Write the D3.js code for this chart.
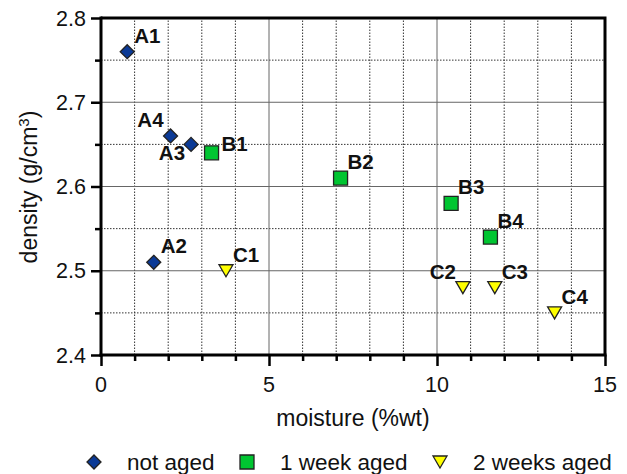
<!DOCTYPE html>
<html>
<head>
<meta charset="utf-8">
<script src="https://cdn.jsdelivr.net/npm/d3@7"></script>
<style>
  body { margin: 0; background: #fff; }
  text { font-family: "Liberation Sans", Arial, sans-serif; fill: #111; }
</style>
</head>
<body>
<script>
// data
var samples = ['A1', 'A2', 'A3', 'A4', 'B1', 'B2', 'B3', 'B4', 'C1', 'C2', 'C3', 'C4'];
var groups = ['not aged', 'not aged', 'not aged', 'not aged',
              '1 week aged', '1 week aged', '1 week aged', '1 week aged',
              '2 weeks aged', '2 weeks aged', '2 weeks aged', '2 weeks aged'];
var moisture = [0.78, 1.57, 2.68, 2.07, 3.29, 7.13, 10.42, 11.59, 3.72, 10.77, 11.72, 13.5];
var density = [2.76, 2.51, 2.65, 2.66, 2.64, 2.61, 2.58, 2.54, 2.50, 2.48, 2.48, 2.45];
var legendNames = ['not aged', '1 week aged', '2 weeks aged'];
var xTicks = [0, 5, 10, 15];
var yTicks = [2.4, 2.5, 2.6, 2.7, 2.8];

// where each label sits relative to its marker
var labelSide = ['ur', 'ur', 'll', 'ul', 'r', 'ur', 'ur', 'ur', 'ur', 'ul', 'ur', 'ur'];

var width = 627, height = 474;
var margin = {left: 101, right: 22, top: 18, bottom: 119};

var svg = d3.select('body').append('svg')
    .attr('width', width)
    .attr('height', height);

var x = d3.scaleLinear().domain([0, 15]).range([margin.left, width - margin.right]);
var y = d3.scaleLinear().domain([2.4, 2.8]).range([height - margin.bottom, margin.top]);

var colors = {'not aged': '#0b3a96', '1 week aged': '#00c531', '2 weeks aged': '#ffff00'};

// marker path for each group (diamond = rotated square, triangle points down)
function marker(g) {
    if (g === 'not aged') return 'M0,-7L7,0L0,7L-7,0Z';
    if (g === '1 week aged') return 'M-7,-7H7V7H-7Z';
    return 'M-7,-6H7L0,6Z';
}

var grid = svg.append('g');

// minor dotted grid
grid.selectAll('.vminor').data(d3.range(1, 15).filter(function(d) { return d % 5; }))
  .enter().append('line')
    .attr('x1', function(d) { return x(d); }).attr('x2', function(d) { return x(d); })
    .attr('y1', y(2.4)).attr('y2', y(2.8))
    .attr('stroke', '#333').attr('stroke-width', 1).attr('stroke-dasharray', '1.5,1.5');

grid.selectAll('.hminor').data([2.45, 2.55, 2.65, 2.75])
  .enter().append('line')
    .attr('y1', function(d) { return y(d); }).attr('y2', function(d) { return y(d); })
    .attr('x1', x(0)).attr('x2', x(15))
    .attr('stroke', '#333').attr('stroke-width', 1).attr('stroke-dasharray', '1.5,1.5');

// major solid grid
grid.selectAll('.vmajor').data([5, 10])
  .enter().append('line')
    .attr('x1', function(d) { return x(d); }).attr('x2', function(d) { return x(d); })
    .attr('y1', y(2.4)).attr('y2', y(2.8))
    .attr('stroke', '#666').attr('stroke-width', 1);

grid.selectAll('.hmajor').data([2.5, 2.6, 2.7])
  .enter().append('line')
    .attr('y1', function(d) { return y(d); }).attr('y2', function(d) { return y(d); })
    .attr('x1', x(0)).attr('x2', x(15))
    .attr('stroke', '#666').attr('stroke-width', 1);

// frame top / right
svg.append('path')
    .attr('d', 'M' + x(0) + ',' + y(2.8) + 'H' + x(15) + 'V' + y(2.4))
    .attr('fill', 'none').attr('stroke', '#000').attr('stroke-width', 3);

// x axis
var xAxis = svg.append('g').attr('transform', 'translate(0,' + y(2.4) + ')');
xAxis.call(d3.axisBottom(x).tickValues(d3.range(0, 16)).tickSize(6).tickFormat(''))
xAxis.select('.domain').remove();
xAxis.selectAll('line').attr('stroke', '#000').attr('stroke-width', 2.5);
xAxis.selectAll('line').filter(function(d) { return d % 5 === 0; }).attr('y2', 11);
xAxis.append('line').attr('x1', x(0) - 1.5).attr('x2', x(15) + 1.5)
    .attr('stroke', '#000').attr('stroke-width', 3);
xAxis.selectAll('.lab').data(xTicks).enter().append('text')
    .attr('x', function(d) { return x(d); })
    .attr('y', 37)
    .attr('text-anchor', 'middle')
    .style('font-size', '21.5px')
    .text(function(d) { return d; });

// y axis
var yAxis = svg.append('g').attr('transform', 'translate(' + x(0) + ',0)');
yAxis.call(d3.axisLeft(y).tickValues(d3.range(2.4, 2.801, 0.05)).tickSize(6).tickFormat(''));
yAxis.select('.domain').remove();
yAxis.selectAll('line').attr('stroke', '#000').attr('stroke-width', 2.5);
yAxis.selectAll('line').filter(function(d) { return Math.round(d * 100) % 10 === 0; }).attr('x2', -10);
yAxis.append('line').attr('y1', y(2.4) + 1.5).attr('y2', y(2.8) - 1.5)
    .attr('stroke', '#000').attr('stroke-width', 3);
yAxis.selectAll('.lab').data(yTicks).enter().append('text')
    .attr('x', -15)
    .attr('y', function(d) { return y(d); })
    .attr('dy', '0.36em')
    .attr('text-anchor', 'end')
    .style('font-size', '21.5px')
    .text(function(d) { return d.toFixed(1); });

// axis titles
svg.append('text')
    .attr('x', (x(0) + x(15)) / 2)
    .attr('y', 426)
    .attr('text-anchor', 'middle')
    .style('font-size', '23px')
    .text('moisture (%wt)');

var yt = svg.append('text')
    .attr('transform', 'translate(37,187) rotate(-90)')
    .attr('text-anchor', 'middle')
    .style('font-size', '23px');
yt.append('tspan').text('density (g/cm');
yt.append('tspan').attr('dy', -8).style('font-size', '15px').text('3');
yt.append('tspan').attr('dy', 8).text(')');

// points
var pts = d3.range(samples.length);
svg.selectAll('.pt').data(pts).enter().append('path')
    .attr('transform', function(i) { return 'translate(' + x(moisture[i]) + ',' + y(density[i]) + ')'; })
    .attr('d', function(i) { return marker(groups[i]); })
    .attr('fill', function(i) { return colors[groups[i]]; })
    .attr('stroke', '#222')
    .attr('stroke-width', 1.3);

// labels
var off = {
    ur: [7, -9, 'start'],
    ul: [-7, -9, 'end'],
    ll: [-6, 16, 'end'],
    r:  [10, -2, 'start']
};
svg.selectAll('.lbl').data(pts).enter().append('text')
    .attr('x', function(i) { return x(moisture[i]) + off[labelSide[i]][0]; })
    .attr('y', function(i) { return y(density[i]) + off[labelSide[i]][1]; })
    .attr('text-anchor', function(i) { return off[labelSide[i]][2]; })
    .style('font-size', '20.5px')
    .style('font-weight', 'bold')
    .text(function(i) { return samples[i]; });

// legend
var legX = [94, 247, 440];
var leg = svg.selectAll('.leg').data(legendNames).enter().append('g')
    .attr('transform', function(d, i) { return 'translate(' + legX[i] + ',462)'; });
leg.append('path')
    .attr('d', function(d) { return marker(d); })
    .attr('fill', function(d) { return colors[d]; })
    .attr('stroke', '#222')
    .attr('stroke-width', 1.3);
leg.append('text')
    .attr('x', 33)
    .attr('dy', '0.36em')
    .style('font-size', '22.5px')
    .text(function(d) { return d; });
</script>
</body>
</html>
